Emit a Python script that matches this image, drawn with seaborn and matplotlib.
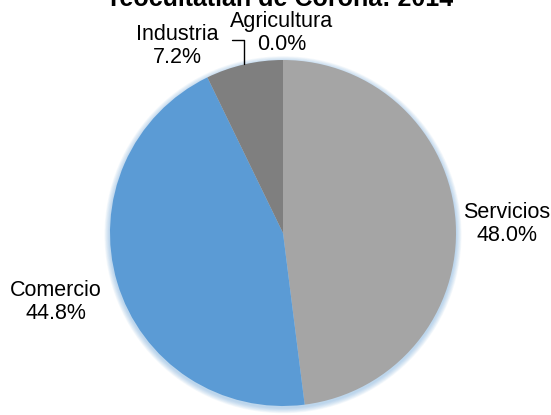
import numpy as np
import matplotlib
matplotlib.use("Agg")
import matplotlib.pyplot as plt
import seaborn as sns
from matplotlib.patches import Circle

sns.set_theme(style="white")
plt.rcParams['font.family'] = ['Liberation Sans', 'DejaVu Sans']

title = "Teocuitatlán de Corona: 2014"
categories = ["Agricultura", "Servicios", "Comercio", "Industria"]
values = [0.0, 48.0, 44.8, 7.2]
colors = ["#ED7D31", "#A5A5A5", "#5B9BD5", "#7F7F7F"]

W, H = 551, 415
fig = plt.figure(figsize=(W / 100, H / 100), dpi=100)
cx, cy, R = 283, 233, 173
ax = fig.add_axes([(cx - R) / W, (H - cy - R) / H, 2 * R / W, 2 * R / H])

wedges, _ = ax.pie(values, colors=colors, startangle=90, counterclock=False,
                   radius=1.0, wedgeprops=dict(linewidth=0))
for w in wedges:
    w.set_zorder(2)

ax.set_xlim(-1, 1)
ax.set_ylim(-1, 1)
ax.set_aspect("equal")
ax.axis("off")

# soft bluish glow / shadow
for k in range(8):
    ax.add_patch(Circle((0, -0.01), 1.0 + 0.004 * (k + 1), color="#5B9BD5",
                        alpha=0.06, lw=0, zorder=0, clip_on=False))

def px2d(px, py):
    return (px - cx) / R, (cy - py) / R

fs = 15.5
label_pos = {
    "Agricultura": (282, 33),
    "Industria": (177, 46),
    "Servicios": (507, 224),
    "Comercio": (56, 302),
}
for cat, val in zip(categories, values):
    x, y = px2d(*label_pos[cat])
    ax.text(x, y, f"{cat}\n{val:.1f}%", ha="center", va="center", fontsize=fs,
            color="black", linespacing=1.1, clip_on=False, zorder=5)

# leader line for Industria to its wedge midpoint
wi = wedges[categories.index("Industria")]
mid = np.deg2rad((wi.theta1 + wi.theta2) / 2)
ex, ey = np.cos(mid), np.sin(mid)
hx0, hy = px2d(232, 40)
ax.plot([hx0, ex, ex], [hy, hy, ey], color="black", lw=1.0, clip_on=False, zorder=4)

fig.text(280 / W, 1 - 6.5 / H, title, ha="center", va="baseline",
         fontsize=18, fontweight="bold", color="black")

fig.savefig("out.png", dpi=100)
